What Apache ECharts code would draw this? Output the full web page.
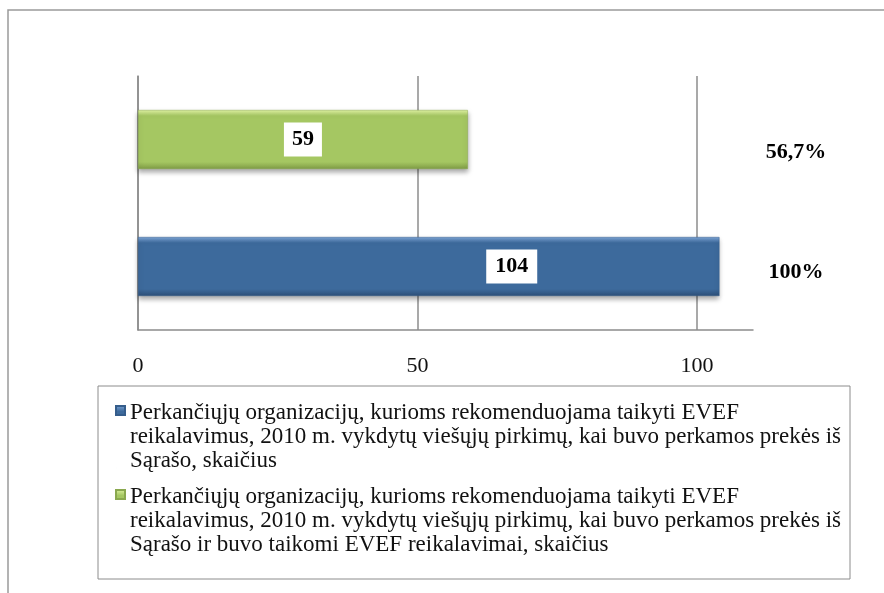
<!DOCTYPE html>
<html lang="lt">

<head>
  <meta charset="UTF-8">
  <title>EVEF</title>
  <script src="https://cdn.jsdelivr.net/npm/echarts@6/dist/echarts.min.js"></script>
  <style>
    html, body { margin: 0; padding: 0; background: #fff; }
  </style>
</head>

<body>

  <div id="main" style="width: 884px;height:593px;"></div>

  <script>
    // duomenys
    var categories = ['visos', 'taikomi']
    var seriesNames = [
      'Perkančiųjų organizacijų, kurioms rekomenduojama taikyti EVEF\nreikalavimus, 2010 m. vykdytų viešųjų pirkimų, kai buvo perkamos prekės iš\nSąrašo, skaičius',
      'Perkančiųjų organizacijų, kurioms rekomenduojama taikyti EVEF\nreikalavimus, 2010 m. vykdytų viešųjų pirkimų, kai buvo perkamos prekės iš\nSąrašo ir buvo taikomi EVEF reikalavimai, skaičius'
    ]
    var blueValues = [104, '-']
    var greenValues = ['-', 59]
    var percentLabels = ['100%', '56,7%']
    var xTicks = [0, 50, 100]

    var font = '"Liberation Serif", "Times New Roman", serif'

    function bevel(light, main, dark) {
      return new echarts.graphic.LinearGradient(0, 0, 0, 1, [
        { offset: 0, color: light },
        { offset: 0.1, color: main },
        { offset: 0.88, color: main },
        { offset: 1, color: dark }
      ])
    }

    var labelBox = {
      show: true,
      position: 'inside',
      color: '#000',
      fontFamily: font,
      fontWeight: 'bold',
      fontSize: 22,
      backgroundColor: '#fff',
      padding: [6, 8, 6, 8]
    }

    var myChart = echarts.init(document.getElementById('main'))

    myChart.setOption({
      animation: false,
      textStyle: { fontFamily: font },
      graphic: [{
        type: 'rect',
        shape: { x: 8, y: 10, width: 900, height: 600 },
        style: { fill: 'none', stroke: '#9a9a9a', lineWidth: 1.5 },
        silent: true
      }],
      grid: { left: 138, right: 131, top: 76, bottom: 263 },
      legend: {
        orient: 'vertical',
        left: 98,
        top: 386,
        padding: [15, 0, 22, 17],
        borderColor: '#8c8c8c',
        borderWidth: 1,
        itemGap: 12,
        itemWidth: 9,
        itemHeight: 62,
        icon: 'path://M0,0H9V9H0Z M0,62L0.01,62',
        textStyle: {
          fontFamily: font,
          fontSize: 23,
          color: '#111',
          width: 720,
          lineHeight: 24
        },
        data: seriesNames
      },
      xAxis: {
        type: 'value',
        min: 0,
        max: 110,
        interval: 50,
        axisLine: { show: true, lineStyle: { color: '#8c8c8c', width: 1.5 } },
        axisTick: { show: false },
        axisLabel: {
          showMaxLabel: false,
          margin: 25,
          fontFamily: font,
          fontSize: 22,
          color: '#111',
          formatter: function (v) {
            return xTicks.indexOf(v) >= 0 ? String(v) : ''
          }
        },
        splitLine: { show: true, showMaxLine: false, lineStyle: { color: '#8c8c8c', width: 1.5 } }
      },
      yAxis: [{
        type: 'category',
        data: categories,
        axisLine: { show: true, lineStyle: { color: '#8c8c8c', width: 1.5 } },
        axisTick: { show: false },
        axisLabel: { show: false }
      }, {
        type: 'category',
        position: 'right',
        data: categories,
        axisLine: { show: false },
        axisTick: { show: false },
        axisLabel: {
          align: 'center',
          margin: 43,
          formatter: function (v, i) {
            return '{p' + i + '|' + percentLabels[i] + '}'
          },
          rich: {
            p0: { fontFamily: font, fontSize: 22, fontWeight: 'bold', color: '#000', padding: [12, 0, 0, 0] },
            p1: { fontFamily: font, fontSize: 22, fontWeight: 'bold', color: '#000', padding: [26, 0, 0, 0] }
          }
        }
      }],
      series: [{
        name: seriesNames[0],
        type: 'bar',
        data: blueValues,
        barWidth: 59,
        barGap: '-100%',
        itemStyle: {
          color: bevel('#7ea6d8', '#3d6a9c', '#2d4f78'),
          borderColor: '#355d8b',
          borderWidth: 0.5,
          shadowColor: 'rgba(0,0,0,0.35)',
          shadowBlur: 5,
          shadowOffsetY: 3
        },
        label: Object.assign({}, labelBox, { offset: [83, 0], padding: [6, 9, 6, 9] })
      }, {
        name: seriesNames[1],
        type: 'bar',
        data: greenValues,
        barWidth: 59,
        barGap: '-100%',
        itemStyle: {
          color: bevel('#e2f5a4', '#a5c762', '#7f9c45'),
          borderColor: '#8aa84f',
          borderWidth: 0.5,
          shadowColor: 'rgba(0,0,0,0.35)',
          shadowBlur: 5,
          shadowOffsetY: 3
        },
        label: labelBox
      }]
    })
  </script>

</body>

</html>
